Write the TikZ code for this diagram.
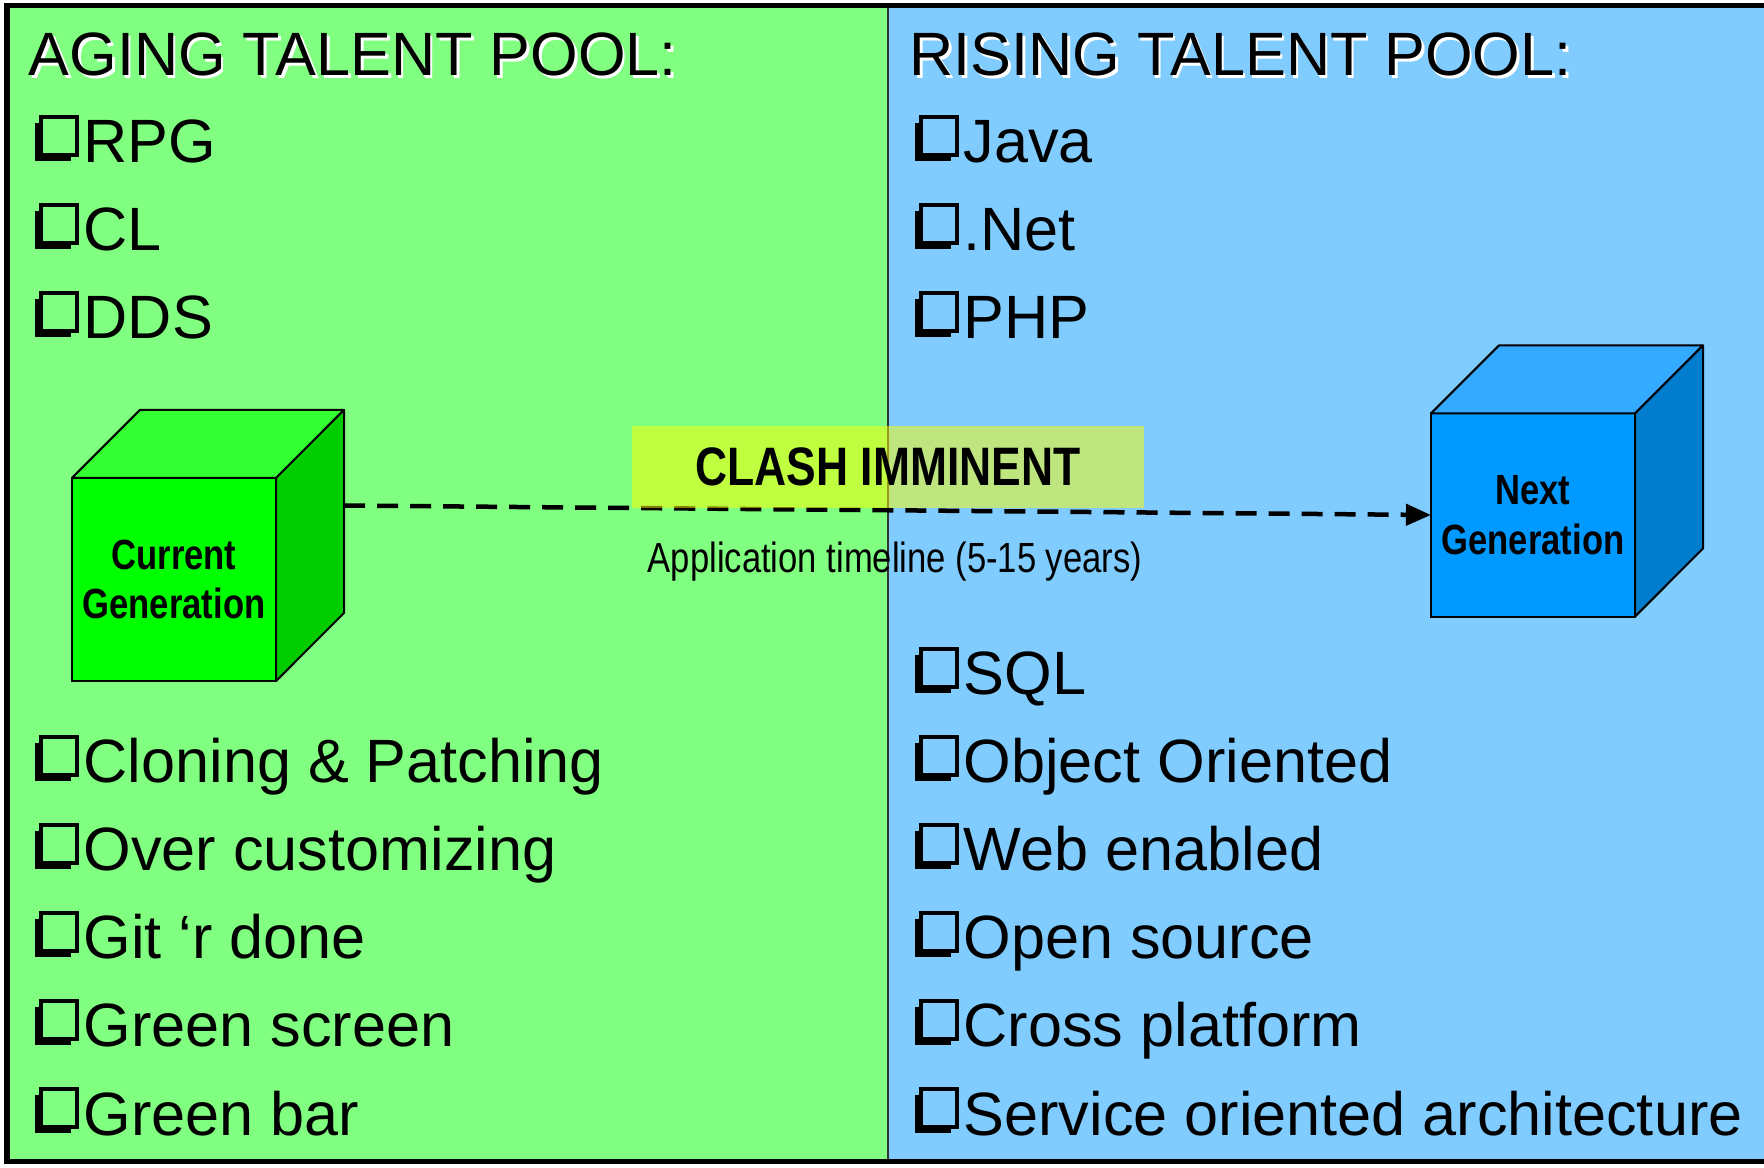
\documentclass[tikz,border=0pt]{standalone}
\usepackage{fontspec}
\setmainfont{Liberation Sans}
\newfontfamily\narrowfont[FakeStretch=0.82]{Liberation Sans}
\usepackage{tikz}
\usetikzlibrary{calc, shadows, arrows.meta}
\definecolor{bggreen}{RGB}{128, 255, 128}
\definecolor{bgblue}{RGB}{128, 204, 255}
\definecolor{curfront}{RGB}{0, 255, 0}
\definecolor{curtop}{RGB}{51, 255, 51}
\definecolor{curside}{RGB}{0, 204, 0}
\definecolor{nextfront}{RGB}{0, 153, 255}
\definecolor{nexttop}{RGB}{51, 170, 255}
\definecolor{nextside}{RGB}{0, 125, 204}
\definecolor{clashyellow}{RGB}{255, 255, 0}

\tikzset{
  heading/.style={anchor=base west, inner sep=0, font=\fontsize{17.4pt}{20pt}\selectfont},
  item/.style={anchor=base west, inner sep=0, font=\fontsize{17.4pt}{20pt}\selectfont},
  sqbullet/.style={draw, line width=0.035cm, anchor=south west, inner sep=0,
    minimum width=0.36cm, minimum height=0.38cm,
    drop shadow={shadow xshift=-0.06cm, shadow yshift=-0.06cm, opacity=1, fill=black}},
  cubefront/.style={draw, line width=0.02cm, inner sep=0, outer sep=0,
    minimum width=2.04cm, minimum height=2.03cm, align=center,
    font=\narrowfont\bfseries\fontsize{12pt}{14.2pt}\selectfont},
  cubeface/.style={draw, line width=0.02cm, line join=round},
}

\begin{document}
\begin{tikzpicture}[x=0.01cm, y=-0.01cm]
\useasboundingbox (0,0) rectangle (1764,1168);

% Two pools
\fill[bggreen] (7,6) rectangle (888,1161);
\fill[bgblue] (888,6) rectangle (1780,1161);
\draw[line width=0.015cm, black!80] (888,6) -- (888,1161);
\draw[line width=0.05cm] (1780,6) -- (7,6) -- (7,1161) -- (1780,1161);

% Cubes
\node[cubefront, fill=curfront] (curgen) at (174,579.5) {Current\\Generation};
\draw[cubeface, fill=curtop] (curgen.north west) -- ++(68,-68) -- ++(204,0) -- (curgen.north east) -- cycle;
\draw[cubeface, fill=curside] (curgen.north east) -- ++(68,-68) -- ++(0,203) -- (curgen.south east) -- cycle;
\coordinate (curback) at ($(curgen.east)+(68,-74)$);

\node[cubefront, fill=nextfront] (nextgen) at (1533,515) {Next\\Generation};
\draw[cubeface, fill=nexttop] (nextgen.north west) -- ++(68,-68) -- ++(204,0) -- (nextgen.north east) -- cycle;
\draw[cubeface, fill=nextside] (nextgen.north east) -- ++(68,-68) -- ++(0,203) -- (nextgen.south east) -- cycle;

% Timeline
\draw[line width=0.045cm, dash pattern=on 0.21cm off 0.12cm,
  -{Triangle[length=0.25cm, width=0.21cm]}] (curback) -- (nextgen.west);
\node[fill=clashyellow, fill opacity=0.5, text opacity=1, minimum width=5.12cm,
  minimum height=0.82cm, inner sep=0,
  font=\narrowfont\bfseries\fontsize{15.4pt}{18pt}\selectfont] (clash) at (888,467) {CLASH IMMINENT};
\node[anchor=base, inner sep=0, font=\narrowfont\fontsize{12pt}{14pt}\selectfont] (timeline) at (895,573) {Application timeline (5-15 years)};

% Headings
\node[heading, white] (agingshade) at (30.5,78.5) {AGING TALENT POOL:};
\node[heading] (aging) at (28,76) {AGING TALENT POOL:};
\node[heading, white] (risingshade) at (911.5,78.5) {RISING TALENT POOL:};
\node[heading] (rising) at (909,76) {RISING TALENT POOL:};

% Aging list
\foreach \txt [count=\i from 0] in {RPG, CL, DDS} {
  \node[sqbullet, fill=bggreen] (agebox\i) at (39,163+88*\i-6) {};
  \node[item] (ageitem\i) at (83,163+88*\i) {\txt};
}
\foreach \txt [count=\i from 0] in {Cloning \& Patching, Over customizing, Git ‘r done, Green screen, Green bar} {
  \node[sqbullet, fill=bggreen] (agelowbox\i) at (39,783+88*\i-6) {};
  \node[item] (agelowitem\i) at (83,783+88*\i) {\txt};
}

% Rising list
\foreach \txt [count=\i from 0] in {Java, .Net, PHP} {
  \node[sqbullet, fill=bgblue] (risebox\i) at (919,163+88*\i-6) {};
  \node[item] (riseitem\i) at (963,163+88*\i) {\txt};
}
\foreach \txt [count=\i from 0] in {SQL, Object Oriented, Web enabled, Open source, Cross platform, Service oriented architecture} {
  \node[sqbullet, fill=bgblue] (riselowbox\i) at (919,695+88*\i-6) {};
  \node[item] (riselowitem\i) at (963,695+88*\i) {\txt};
}
\end{tikzpicture}
\end{document}
